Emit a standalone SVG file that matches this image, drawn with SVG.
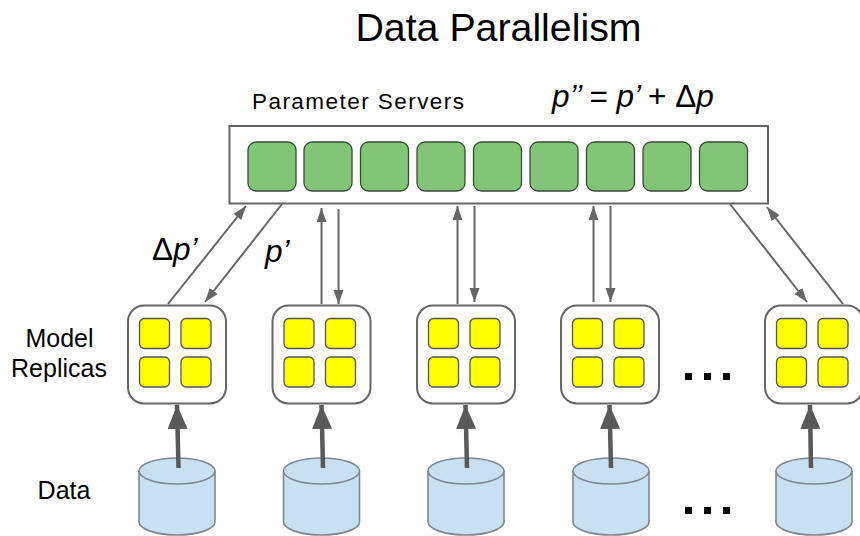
<svg xmlns="http://www.w3.org/2000/svg" xmlns:xlink="http://www.w3.org/1999/xlink" width="860" height="536" viewBox="0 0 860 536">
<style>
text{font-family:"Liberation Sans",Arial,sans-serif;fill:#000}
.i{font-style:italic}
.g{fill:#82c576;stroke:#3a4a3a;stroke-width:1.3}
.y{fill:#ffff00;stroke:#555;stroke-width:1.3}
.box{fill:#fff;stroke:#666;stroke-width:2}
.cyl{fill:#c9e0f0;stroke:#808890;stroke-width:1.6}
.thin{fill:none;stroke:#666;stroke-width:2}
.thick{fill:none;stroke:#595959;stroke-width:4.5}
.d{fill:#000}
</style>
<defs>
<marker id="a" markerUnits="userSpaceOnUse" markerWidth="16" markerHeight="12" refX="14" refY="5" orient="auto"><path d="M0,0L14,5L0,10Z" fill="#666"/></marker>
<marker id="b" markerUnits="userSpaceOnUse" markerWidth="26" markerHeight="22" refX="24" refY="10" orient="auto"><path d="M0,0L24,10L0,20Z" fill="#595959"/></marker>
<g id="rep"><rect class="box" x="0" y="0" width="98" height="98" rx="16"/>
<rect class="y" x="11.500" y="13" width="30" height="30" rx="5"/><rect class="y" x="53" y="13" width="30" height="30" rx="5"/>
<rect class="y" x="11.500" y="51.500" width="30" height="30" rx="5"/><rect class="y" x="53" y="51.500" width="30" height="30" rx="5"/></g>
<g id="cy"><path class="cyl" d="M0,13V64C0,71 17,77 38,77S76,71 76,64V13"/><ellipse class="cyl" cx="38" cy="13" rx="38" ry="13"/></g>
<rect id="gs" class="g" width="48" height="49" rx="8"/>
</defs>
<text x="498.500" y="41" font-size="39.300" text-anchor="middle">Data Parallelism</text>
<text x="252" y="109" font-size="22.500" textLength="212" lengthAdjust="spacing">Parameter Servers</text>
<text x="552" y="107" font-size="31.500" class="i">p’’ <tspan font-style="normal">=</tspan> p’ <tspan font-style="normal">+ Δ</tspan>p</text>
<text x="152" y="260" font-size="31.500"><tspan>Δ</tspan><tspan class="i">p’</tspan></text>
<text x="265" y="262" font-size="31.500" class="i">p’</text>
<text x="59.500" y="347" font-size="25" text-anchor="middle">Model</text>
<text x="59" y="377" font-size="25" text-anchor="middle">Replicas</text>
<text x="64" y="499" font-size="25" text-anchor="middle">Data</text>
<g id="dots1" class="d"><rect x="685" y="373" width="7" height="7"/><rect x="704" y="373" width="7" height="7"/><rect x="723" y="373" width="7" height="7"/></g>
<g id="dots2" class="d"><rect x="685" y="507" width="7" height="7"/><rect x="704" y="507" width="7" height="7"/><rect x="723" y="507" width="7" height="7"/></g>
<g id="ps"><rect class="box" x="229.500" y="126" width="538.500" height="77.500"/>
<use xlink:href="#gs" x="248" y="142"/><use xlink:href="#gs" x="304" y="142"/><use xlink:href="#gs" x="360.500" y="142"/><use xlink:href="#gs" x="417" y="142"/><use xlink:href="#gs" x="473.500" y="142"/><use xlink:href="#gs" x="530" y="142"/><use xlink:href="#gs" x="586.500" y="142"/><use xlink:href="#gs" x="643" y="142"/><use xlink:href="#gs" x="699.500" y="142"/></g>
<g id="replica1"><use xlink:href="#rep" x="128" y="305.500"/></g>
<g id="replica2"><use xlink:href="#rep" x="272.500" y="305.500"/></g>
<g id="replica3"><use xlink:href="#rep" x="417" y="305.500"/></g>
<g id="replica4"><use xlink:href="#rep" x="561" y="305.500"/></g>
<g id="replica5"><use xlink:href="#rep" x="765" y="305.500"/></g>
<g id="data1"><use xlink:href="#cy" x="139" y="458"/></g>
<g id="data2"><use xlink:href="#cy" x="283.500" y="458"/></g>
<g id="data3"><use xlink:href="#cy" x="428" y="458"/></g>
<g id="data4"><use xlink:href="#cy" x="573" y="458"/></g>
<g id="data5"><use xlink:href="#cy" x="776" y="458"/></g>
<g id="connectors">
<line class="thin" marker-end="url(#a)" x1="168" y1="304" x2="246" y2="206"/>
<line class="thin" marker-end="url(#a)" x1="282" y1="204" x2="205" y2="302"/>
<line class="thin" marker-end="url(#a)" x1="321.500" y1="304" x2="321.500" y2="208"/>
<line class="thin" marker-end="url(#a)" x1="338.500" y1="209" x2="338.500" y2="304"/>
<line class="thin" marker-end="url(#a)" x1="457.500" y1="304" x2="457.500" y2="206"/>
<line class="thin" marker-end="url(#a)" x1="474.500" y1="206" x2="474.500" y2="302"/>
<line class="thin" marker-end="url(#a)" x1="593.500" y1="302" x2="593.500" y2="206"/>
<line class="thin" marker-end="url(#a)" x1="610.500" y1="206" x2="610.500" y2="302"/>
<line class="thin" marker-end="url(#a)" x1="730" y1="204" x2="807" y2="302"/>
<line class="thin" marker-end="url(#a)" x1="843" y1="304" x2="767" y2="207"/>
<line class="thick" marker-end="url(#b)" x1="178.500" y1="468" x2="177" y2="405"/>
<line class="thick" marker-end="url(#b)" x1="323" y1="468" x2="321.500" y2="405"/>
<line class="thick" marker-end="url(#b)" x1="467" y1="468" x2="465.500" y2="405"/>
<line class="thick" marker-end="url(#b)" x1="611" y1="468" x2="609.500" y2="405"/>
<line class="thick" marker-end="url(#b)" x1="811" y1="468" x2="810" y2="405"/>
</g>
</svg>
